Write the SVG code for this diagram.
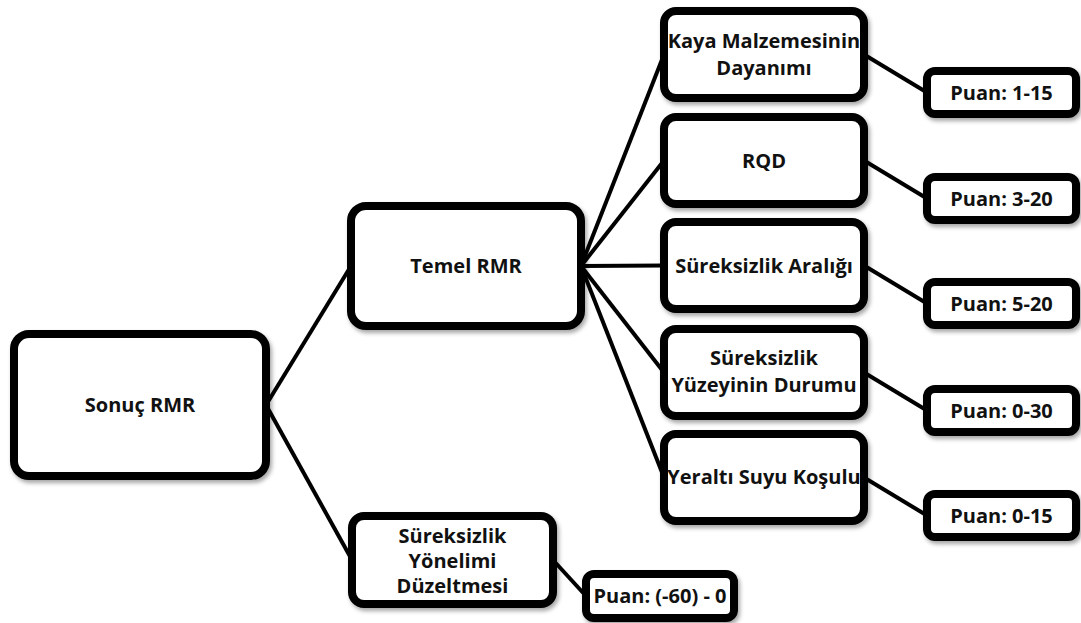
<svg xmlns="http://www.w3.org/2000/svg" width="1081" height="623" viewBox="0 0 1081 623">
<defs>
<filter id="sh" x="-10%" y="-10%" width="130%" height="140%">
<feDropShadow dx="2" dy="3" stdDeviation="2" flood-color="#000" flood-opacity="0.35"/>
</filter>
<style>
.box{fill:#fff;stroke:#000;stroke-width:8;filter:url(#sh)}
.t{font-family:"Open Sans","Liberation Sans",sans-serif;font-weight:bold;font-size:20px;fill:#111;text-anchor:middle}
.c{stroke:#000;stroke-width:4;fill:none}
</style>
</defs>
<rect width="1081" height="623" fill="#fff"/>
<g id="connectors">
<line class="c" x1="266" y1="405" x2="351" y2="266"/>
<line class="c" x1="266" y1="405" x2="352" y2="560"/>
<line class="c" x1="581" y1="266" x2="664" y2="54.5"/>
<line class="c" x1="581" y1="266" x2="664" y2="160.5"/>
<line class="c" x1="581" y1="266" x2="664" y2="265.5"/>
<line class="c" x1="581" y1="266" x2="664" y2="372.5"/>
<line class="c" x1="581" y1="266" x2="664" y2="477.5"/>
<line class="c" x1="864" y1="54.5" x2="927" y2="92.5"/>
<line class="c" x1="864" y1="160.5" x2="927" y2="198.5"/>
<line class="c" x1="864" y1="265.5" x2="927" y2="303.5"/>
<line class="c" x1="864" y1="372.5" x2="927" y2="410.5"/>
<line class="c" x1="864" y1="477.5" x2="927" y2="515.5"/>
<line class="c" x1="553" y1="560" x2="586" y2="596"/>
</g>
<g id="sonuc">
<rect class="box" x="14" y="334" width="252" height="142" rx="15"/>
<text class="t" x="140" y="412">Sonuç RMR</text>
</g>
<g id="temel">
<rect class="box" x="351" y="206" width="230" height="120" rx="15"/>
<text class="t" x="466" y="273">Temel RMR</text>
</g>
<g id="kaya">
<rect class="box" x="664" y="11" width="200" height="87" rx="12"/>
<text class="t" x="764" y="48">Kaya Malzemesinin</text>
<text class="t" x="764" y="75">Dayanımı</text>
</g>
<g id="rqd">
<rect class="box" x="664" y="117" width="200" height="87" rx="12"/>
<text class="t" x="764" y="167.5">RQD</text>
</g>
<g id="aralik">
<rect class="box" x="664" y="222" width="200" height="87" rx="12"/>
<text class="t" x="764" y="272.5">Süreksizlik Aralığı</text>
</g>
<g id="yuzey">
<rect class="box" x="664" y="329" width="200" height="87" rx="12"/>
<text class="t" x="764" y="365">Süreksizlik</text>
<text class="t" x="764" y="392">Yüzeyinin Durumu</text>
</g>
<g id="yeralti">
<rect class="box" x="664" y="434" width="200" height="87" rx="12"/>
<text class="t" x="764" y="484">Yeraltı Suyu Koşulu</text>
</g>
<g id="puan1">
<rect class="box" x="927" y="71" width="149" height="43" rx="8"/>
<text class="t" x="1001.5" y="99.5">Puan: 1-15</text>
</g>
<g id="puan2">
<rect class="box" x="927" y="177" width="149" height="43" rx="8"/>
<text class="t" x="1001.5" y="205.5">Puan: 3-20</text>
</g>
<g id="puan3">
<rect class="box" x="927" y="282" width="149" height="43" rx="8"/>
<text class="t" x="1001.5" y="310.5">Puan: 5-20</text>
</g>
<g id="puan4">
<rect class="box" x="927" y="389" width="149" height="43" rx="8"/>
<text class="t" x="1001.5" y="417.5">Puan: 0-30</text>
</g>
<g id="puan5">
<rect class="box" x="927" y="494" width="149" height="43" rx="8"/>
<text class="t" x="1001.5" y="522.5">Puan: 0-15</text>
</g>
<g id="yonelim">
<rect class="box" x="352" y="516" width="201" height="88" rx="12"/>
<text class="t" x="452.5" y="543">Süreksizlik</text>
<text class="t" x="452.5" y="568">Yönelimi</text>
<text class="t" x="452.5" y="593">Düzeltmesi</text>
</g>
<g id="puan6">
<rect class="box" x="586" y="574" width="148" height="44" rx="8"/>
<text class="t" x="660" y="603">Puan: (-60) - 0</text>
</g>
</svg>
